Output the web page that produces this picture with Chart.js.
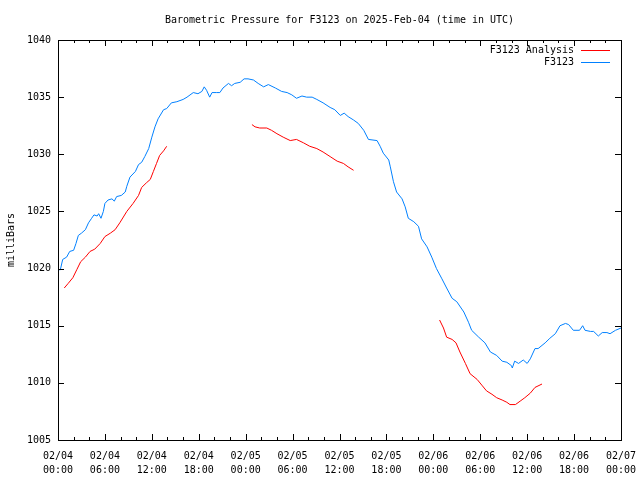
<!DOCTYPE html>
<html>
<head>
<meta charset="utf-8">
<script src="https://cdn.jsdelivr.net/npm/chart.js@4"></script>
<style>
  body { margin: 0; background: #fff; }
  canvas { display: block; }
</style>
</head>
<body>
<canvas id="chart" width="640" height="480"></canvas>
<script>
/* Hours since 2025-02-04 00:00 UTC, and pressure in mb. */
const stationHours = [
  0.0, 0.3, 0.6, 1.1, 1.5, 2.0, 2.3, 2.6, 3.0, 3.5, 3.9, 4.3, 4.6, 5.0, 5.2, 5.5, 5.8,
  6.0, 6.4, 6.9, 7.2, 7.5, 8.1, 8.6, 8.8, 9.2, 9.9, 10.3, 10.7, 11.1, 11.6, 12.0, 12.4,
  12.8, 13.5, 13.9, 14.5, 15.2, 16.0, 16.5, 17.3, 17.9, 18.4, 18.7, 19.0, 19.4, 19.7,
  20.3, 20.7, 21.1, 21.8, 22.2, 22.6, 23.3, 23.8, 24.3, 25.0, 25.6, 26.3, 26.9, 27.8,
  28.6, 29.3, 29.9, 30.5, 31.2, 31.8, 32.5, 33.1, 33.9, 34.8, 35.4, 36.1, 36.6, 37.1,
  37.8, 38.4, 39.1, 39.7, 40.8, 41.2, 41.6, 42.3, 42.5, 42.9, 43.3, 44.0, 44.4, 44.8,
  45.5, 46.1, 46.5, 47.2, 47.8, 48.4, 49.1, 49.7, 50.4, 51.0, 51.9, 52.5, 52.9, 53.8,
  54.6, 55.3, 56.1, 56.8, 57.4, 58.0, 58.1, 58.4, 58.9, 59.5, 60.0, 60.4, 61.0, 61.4,
  62.3, 62.9, 63.6, 64.2, 64.9, 65.3, 65.9, 66.7, 67.1, 67.4, 68.1, 68.5, 69.1, 69.6,
  70.2, 70.6, 71.3, 72.0
]
const stationValues = [
  1019.9, 1019.9, 1020.8, 1021.0, 1021.5, 1021.6, 1022.2, 1022.9, 1023.1, 1023.4, 1024.0, 1024.4, 1024.7, 1024.6, 1024.8, 1024.4, 1025.0,
  1025.7, 1026.0, 1026.1, 1025.9, 1026.3, 1026.4, 1026.7, 1027.2, 1028.0, 1028.5, 1029.1, 1029.3, 1029.8, 1030.5, 1031.5, 1032.4,
  1033.1, 1033.9, 1034.0, 1034.5, 1034.6, 1034.8, 1035.0, 1035.4, 1035.3, 1035.5, 1035.9, 1035.6, 1035.0, 1035.4,
  1035.4, 1035.4, 1035.8, 1036.2, 1036.0, 1036.2, 1036.3, 1036.6, 1036.6, 1036.5, 1036.2, 1035.9, 1036.1, 1035.8,
  1035.5, 1035.4, 1035.2, 1034.9, 1035.1, 1035.0, 1035.0, 1034.8, 1034.5, 1034.1, 1033.9, 1033.4, 1033.6, 1033.3,
  1033.0, 1032.7, 1032.1, 1031.3, 1031.2, 1030.7, 1030.1, 1029.5, 1028.9, 1027.6, 1026.7, 1026.1, 1025.4, 1024.4,
  1024.1, 1023.7, 1022.6, 1021.9, 1021.0, 1020.0, 1019.1, 1018.3, 1017.4, 1017.1, 1016.2, 1015.3, 1014.6, 1014.0,
  1013.5, 1012.7, 1012.4, 1011.9, 1011.8, 1011.5, 1011.3, 1011.9, 1011.7, 1012.0, 1011.7, 1012.1, 1013.0, 1013.0,
  1013.5, 1013.9, 1014.3, 1015.0, 1015.2, 1015.1, 1014.6, 1014.6, 1015.0, 1014.6, 1014.5, 1014.5, 1014.1, 1014.4,
  1014.4, 1014.3, 1014.6, 1014.8
]

/* Analysis runs come in three pieces; a null value breaks the line. */
const analysisHours = [
  0.8, 1.3, 1.9, 2.4, 2.9, 3.5, 4.1, 4.7, 5.4, 6.0, 6.7, 7.3, 7.9, 8.8, 9.6, 10.3, 10.7,
  11.3, 11.8, 12.2, 12.6, 13.0, 13.5, 13.9,
  19.0,
  24.8, 25.2, 25.8, 26.7, 27.3, 28.0, 28.8, 29.7, 30.5, 31.4, 32.2, 33.1, 33.9, 34.8,
  35.7, 36.5, 37.1, 37.8,
  43.0,
  48.8, 49.3, 49.7, 50.4, 50.9, 51.4, 52.1, 52.7, 53.6, 54.2, 54.8, 55.5, 56.1, 56.8,
  57.4, 57.8, 58.5, 59.1, 59.7, 60.4, 61.0, 61.9
]
const analysisValues = [
  1018.3, 1018.7, 1019.2, 1019.9, 1020.6, 1021.0, 1021.5, 1021.7, 1022.2, 1022.8, 1023.1, 1023.4, 1024.0, 1025.0, 1025.7, 1026.4, 1027.1,
  1027.5, 1027.8, 1028.5, 1029.2, 1029.9, 1030.3, 1030.7,
  null,
  1032.6, 1032.4, 1032.3, 1032.3, 1032.1, 1031.8, 1031.5, 1031.2, 1031.3, 1031.0, 1030.7, 1030.5, 1030.2, 1029.8,
  1029.4, 1029.2, 1028.9, 1028.6,
  null,
  1015.5, 1014.8, 1014.0, 1013.8, 1013.5, 1012.7, 1011.7, 1010.8, 1010.3, 1009.8, 1009.3, 1009.0, 1008.7, 1008.5,
  1008.3, 1008.1, 1008.1, 1008.4, 1008.7, 1009.1, 1009.6, 1009.9
]

/* Tick labels, one per 6 hours. */
const dayLabels = ["02/04", "02/04", "02/04", "02/04", "02/05", "02/05", "02/05", "02/05", "02/06", "02/06", "02/06", "02/06", "02/07"]
const timeLabels = ["00:00", "06:00", "12:00", "18:00", "00:00", "06:00", "12:00", "18:00", "00:00", "06:00", "12:00", "18:00", "00:00"]

const FONT = "'DejaVu Sans Mono', 'Liberation Mono', monospace"

const toPoints = (hours, values) => hours.map((h, i) => ({ x: h, y: values[i] }))

/* Plot frame and inward ticks on all four sides, like gnuplot. */
const framePlugin = {
  id: "frame",
  afterDraw(chart) {
    const ctx = chart.ctx
    const a = chart.chartArea
    const xs = chart.scales.x
    const ys = chart.scales.y
    ctx.save()
    ctx.strokeStyle = "#000"
    ctx.lineWidth = 1
    ctx.beginPath()
    for (let h = 0; h <= 72; h += 2) {
      const px = Math.round(xs.getPixelForValue(h)) + 0.5
      const len = h % 6 == 0 ? 6 : 3
      ctx.moveTo(px, a.bottom); ctx.lineTo(px, a.bottom - len)
      ctx.moveTo(px, a.top); ctx.lineTo(px, a.top + len)
    }
    for (let v = 1005; v <= 1040; v += 5) {
      const py = Math.round(ys.getPixelForValue(v)) + 0.5
      ctx.moveTo(a.left, py); ctx.lineTo(a.left + 6, py)
      ctx.moveTo(a.right, py); ctx.lineTo(a.right - 6, py)
    }
    ctx.stroke()
    ctx.strokeRect(Math.round(a.left) + 0.5, Math.round(a.top) + 0.5,
      Math.round(a.right - a.left), Math.round(a.bottom - a.top))

    /* Legend in the top right corner: text then line sample. */
    ctx.font = "10px " + FONT
    ctx.textAlign = "right"
    ctx.textBaseline = "middle"
    chart.data.datasets.forEach((ds, i) => {
      const y = a.top + 10 + i * 12
      ctx.fillStyle = "#000"
      ctx.fillText(ds.label, a.right - 47, y)
      ctx.strokeStyle = ds.borderColor
      ctx.beginPath()
      ctx.moveTo(a.right - 40, Math.round(y) + 0.5)
      ctx.lineTo(a.right - 11, Math.round(y) + 0.5)
      ctx.stroke()
    })
    ctx.restore()
  }
}

const ctx = document.getElementById("chart").getContext("2d")
const chart = new Chart(ctx, {
  type: "line",
  data: {
    datasets: [{
      label: "F3123 Analysis",
      data: toPoints(analysisHours, analysisValues),
      borderColor: "rgb(255, 0, 0)",
      borderWidth: 1,
      pointRadius: 0,
      spanGaps: false
    }, {
      label: "F3123",
      data: toPoints(stationHours, stationValues),
      borderColor: "rgb(0, 128, 255)",
      borderWidth: 1,
      pointRadius: 0
    }]
  },
  options: {
    responsive: false,
    animation: false,
    layout: { padding: { left: 0, right: 19, top: 0, bottom: 0 } },
    scales: {
      x: {
        type: "linear",
        min: 0,
        max: 72,
        afterFit: scale => {
          scale.height = 40
          scale.paddingLeft = 0
          scale.paddingRight = 0
        },
        grid: { display: false, drawTicks: false },
        border: { display: false },
        ticks: {
          stepSize: 6,
          autoSkip: false,
          maxRotation: 0,
          padding: 9,
          color: "#000",
          font: { family: FONT, size: 10, lineHeight: 1.4 },
          callback: value => {
            const i = value / 6
            return Number.isInteger(i) ? [dayLabels[i], timeLabels[i]] : ""
          }
        }
      },
      y: {
        min: 1005,
        max: 1040,
        afterFit: scale => {
          scale.width = 58
          scale.paddingTop = 0
          scale.paddingBottom = 0
        },
        grid: { display: false, drawTicks: false },
        border: { display: false },
        ticks: {
          stepSize: 5,
          padding: 7,
          color: "#000",
          font: { family: FONT, size: 10 },
          callback: value => String(value)
        },
        title: {
          display: true,
          text: "milliBars",
          color: "#000",
          font: { family: FONT, size: 10 },
          padding: { top: 5, bottom: 0 }
        }
      }
    },
    plugins: {
      legend: { display: false },
      tooltip: { enabled: false },
      title: {
        display: true,
        fullSize: false,
        text: "Barometric Pressure for F3123 on 2025-Feb-04 (time in UTC)",
        color: "#000",
        font: { family: FONT, size: 10, weight: "normal", lineHeight: 1.2 },
        padding: { top: 14, bottom: 14 }
      }
    }
  },
  plugins: [framePlugin]
})
</script>
</body>
</html>
